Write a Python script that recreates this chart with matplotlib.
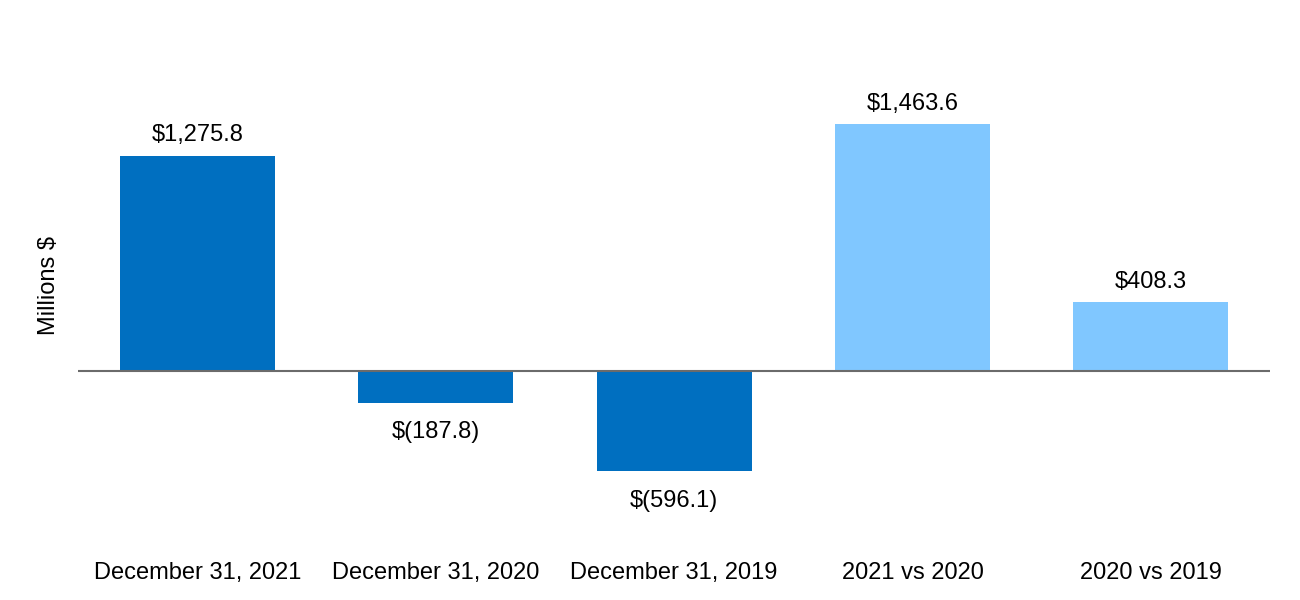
import matplotlib
matplotlib.use("Agg")
import matplotlib.pyplot as plt
import numpy as np

categories = ["December 31, 2021", "December 31, 2020", "December 31, 2019",
              "2021 vs 2020", "2020 vs 2019"]
values = [1275.8, -187.8, -596.1, 1463.6, 408.3]
labels = ["$1,275.8", "$(187.8)", "$(596.1)", "$1,463.6", "$408.3"]
colors = ["#006FC0", "#006FC0", "#006FC0", "#80C7FF", "#80C7FF"]

plt.rcParams["font.family"] = ["Liberation Sans", "DejaVu Sans"]

fig = plt.figure(figsize=(13, 6), dpi=100)
ax = fig.add_axes([0.06, 0.1, 0.917, 0.833])

x = np.arange(len(categories))
ax.bar(x, values, width=0.65, color=colors, zorder=2)
ax.axhline(0, color="#6b6b6b", linewidth=1.5, zorder=3)

for xi, v, lab in zip(x, values, labels):
    if v >= 0:
        ax.annotate(lab, (xi, v), xytext=(0, 7), textcoords="offset points",
                    ha="center", va="bottom", fontsize=17)
    else:
        ax.annotate(lab, (xi, v), xytext=(0, -13), textcoords="offset points",
                    ha="center", va="top", fontsize=17)

ax.set_xlim(-0.5, 4.5)
ax.set_ylim(-1003, 1964)
ax.set_xticks(x, labels=categories, fontsize=17)
ax.tick_params(axis="x", length=0, pad=16)
ax.set_yticks([])
ax.set_ylabel("Millions $", fontsize=17)
ax.yaxis.set_label_coords(-0.015, 0.51)
for s in ax.spines.values():
    s.set_visible(False)

fig.savefig("out.png", dpi=100)
